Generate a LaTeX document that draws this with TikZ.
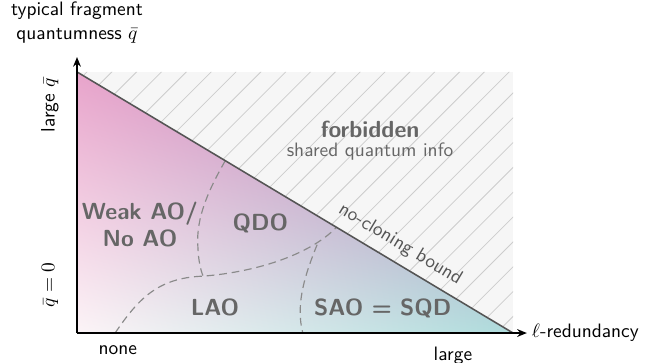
\documentclass[tikz,border=0pt]{standalone}
\usepackage{amsmath}
\usetikzlibrary{calc,arrows.meta,shadings}

\definecolor{labelgray}{HTML}{666666}
\definecolor{boundgray}{HTML}{555555}
\definecolor{dashgray}{HTML}{8A8A8A}
\definecolor{hatchbg}{HTML}{F6F6F6}
\definecolor{hatchline}{HTML}{CDCDCD}
\definecolor{pinkcorner}{HTML}{E8A4CB}
\definecolor{whitecorner}{HTML}{FCF4F7}
\definecolor{tealcorner}{HTML}{AEDCDC}
\definecolor{purplecorner}{HTML}{AE78B4}

\tikzset{
  region/.style={font=\sffamily\bfseries\large, text=labelgray, align=center},
  border/.style={draw=dashgray, line width=0.6pt, dash pattern=on 4pt off 2.5pt},
  axis/.style={line width=0.9pt, -{Stealth[length=5pt,width=4pt]}}
}

\begin{document}
\begin{tikzpicture}[font=\sffamily]
\useasboundingbox (-1.395,-0.525) rectangle (10.598,6.033);

% corners of the allowed region
\coordinate (origin) at (0,0);
\coordinate (top) at (0,4.73);
\coordinate (xend) at (7.9,0);
\coordinate (corner) at (7.9,4.73);

% forbidden region, hatched
\begin{scope}
\clip (top) -- (corner) -- (xend) -- cycle;
\fill[hatchbg] (origin) rectangle (corner);
\foreach \i in {0,0.45,...,13} {
  \draw[hatchline, line width=0.4pt] (\i-5,0) -- ++(5,5);
}
\end{scope}

% allowed region, shaded
\begin{scope}
\clip (origin) -- (top) -- (xend) -- cycle;
\shade[upper left=pinkcorner, upper right=purplecorner,
       lower left=whitecorner, lower right=tealcorner] (origin) rectangle (corner);
\end{scope}

% region borders
\coordinate (b1) at ($(top)!0.34!(xend)$);
\coordinate (b2) at ($(top)!0.595!(xend)$);
\draw[border] (b1) .. controls (2.40,2.62) and (2.15,2.10) .. (2.19,1.56)
  .. controls (2.20,1.30) and (2.24,1.15) .. (2.28,1.04);
\draw[border] (0.69,0) .. controls (1.10,0.60) and (1.45,1.00) .. (2.28,1.03)
  .. controls (3.20,1.10) and (4.20,1.40) .. (b2);
\draw[border] (4.35,1.60) .. controls (4.15,1.10) and (3.95,0.55) .. (4.09,0);

% no-cloning bound
\draw[boundgray, line width=0.8pt] (top) -- (xend)
  node[pos=0.72, above=1pt, sloped, text=boundgray] {no-cloning bound};

% axes
\draw[axis] (origin) -- (0,5.0) coordinate (yarrow);
\draw[axis] (origin) -- (8.15,0) coordinate (xarrow);

% axis labels
\node[align=center, anchor=south] (ylabel) at (0,5.13) {typical fragment\\quantumness $\bar q$};
\node[anchor=west, inner sep=1pt] (xlabel) at (8.20,0) {$\ell$-redundancy};
\node[rotate=90] (ylarge) at (-0.49,4.13) {large $\bar q$};
\node[rotate=90] (yzero) at (-0.49,0.87) {$\bar q = 0$};
\node (xnone) at (0.74,-0.31) {none};
\node (xlarge) at (6.81,-0.42) {large};

% regions
\node[region] (forbid) at (5.31,3.68) {forbidden};
\node[text=labelgray] (shared) at (5.31,3.28) {shared quantum info};
\node[region, inner sep=0pt] (weak) at (1.14,1.96) {Weak AO/\\No AO};
\node[region] (qdo) at (3.32,1.99) {QDO};
\node[region] (lao) at (2.50,0.47) {LAO};
\node[region] (sao) at (5.54,0.45) {SAO = SQD};
\end{tikzpicture}
\end{document}
